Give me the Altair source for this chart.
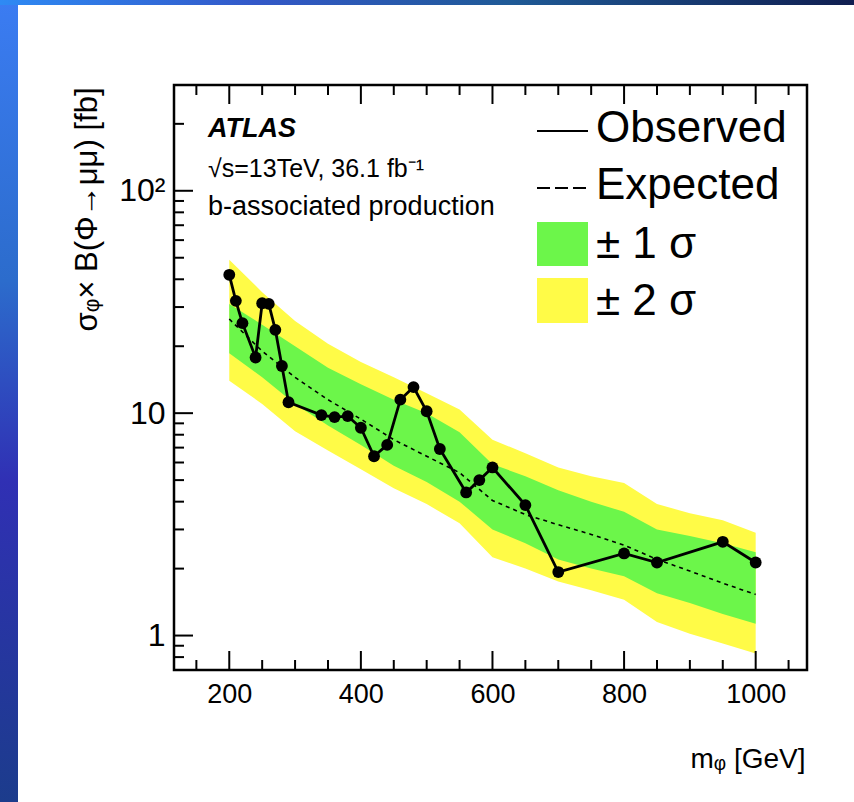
import altair as alt
import pandas as pd

# ---------------- data ----------------
mass_obs = [200, 210, 220, 240, 250, 260, 270, 280, 290, 340, 360, 380, 400, 420,
            440, 460, 480, 500, 520, 560, 580, 600, 650, 700, 800, 850, 950, 1000]
observed = [41.9, 32.0, 25.4, 17.8, 31.2, 31.0, 23.7, 16.3, 11.2, 9.8, 9.6, 9.7, 8.6, 6.4,
            7.2, 11.5, 13.1, 10.2, 6.9, 4.4, 5.0, 5.7, 3.86, 1.93, 2.34, 2.13, 2.64, 2.13]

mass_exp = [200, 250, 300, 350, 400, 450, 500, 550, 600, 650, 700, 750, 800, 850, 900, 950, 1000]
expected = [26.5, 19.0, 14.5, 11.5, 9.4, 7.6, 6.4, 5.4, 4.05, 3.5, 3.15, 2.85, 2.55, 2.2, 1.95, 1.72, 1.53]
plus1 =    [31.0, 25.0, 20.0, 16.0, 13.5, 11.5, 10.0, 8.2, 5.9, 5.2, 4.5, 4.0, 3.6, 3.0, 2.8, 2.6, 2.37]
minus1 =   [18.6, 14.5, 11.0, 8.8, 7.2, 5.8, 4.9, 4.0, 3.0, 2.6, 2.2, 2.0, 1.85, 1.55, 1.4, 1.25, 1.13]
plus2 =    [49.0, 35.0, 26.0, 20.5, 17.0, 14.5, 12.3, 10.4, 7.6, 6.6, 5.7, 5.2, 4.85, 3.9, 3.55, 3.3, 2.9]
minus2 =   [14.0, 11.0, 8.3, 6.8, 5.6, 4.6, 3.9, 3.2, 2.25, 2.0, 1.75, 1.6, 1.45, 1.15, 1.02, 0.92, 0.83]

x_major = [200, 400, 600, 800, 1000]
x_minor = [150, 250, 300, 350, 450, 500, 550, 650, 700, 750, 850, 900, 950, 1050]
y_major = [1, 10, 100]
y_minor = [0.8, 0.9, 2, 3, 4, 5, 6, 7, 8, 9, 20, 30, 40, 50, 60, 70, 80, 90, 200]

legend_labels = ["Observed", "Expected", "\u00b1 1 \u03c3", "\u00b1 2 \u03c3"]

# ---------------- layout ----------------
W, H = 633, 585
XDOM = [116, 1078]
YDOM = [0.7, 299]
FONT = "Liberation Sans"
MAJ, MIN = 19, 10

df_obs = pd.DataFrame({"m": mass_obs, "v": observed})
df_exp = pd.DataFrame({"m": mass_exp, "exp": expected, "p1": plus1, "m1": minus1,
                       "p2": plus2, "m2": minus2})

xs = alt.Scale(domain=XDOM, nice=False, zero=False)
ys = alt.Scale(type="log", domain=YDOM, nice=False)

x_axis = alt.Axis(values=x_major, format="d", title="m\u1d69 [GeV]", grid=False, domain=False,
                  ticks=False, tickSize=0, labelPadding=11, labelFontSize=27,
                  labelFont=FONT, labelColor="black", titleFont=FONT, titleFontSize=28,
                  titleFontWeight="normal", titleColor="black", titleAnchor="end",
                  titleAlign="right", titleX=W - 2, titleY=97, titleBaseline="alphabetic")
y_axis = alt.Axis(values=y_major, grid=False, domain=False, ticks=False, tickSize=0,
                  labelPadding=9, labelFontSize=32, labelFont=FONT, labelColor="black",
                  labelExpr="datum.value == 100 ? '10\u00b2' : datum.value == 10 ? '10' : '1'",
                  title="\u03c3\u1d69\u00d7 B(\u03a6\u2192\u03bc\u03bc) [fb]", titleFont=FONT,
                  titleFontSize=31, titleFontWeight="normal", titleColor="black",
                  titleAngle=-90, titleAlign="right", titleBaseline="middle",
                  titleX=-87, titleY=2)

base = alt.Chart(df_exp)
band2 = base.mark_area(color="#fffb47", opacity=1).encode(
    x=alt.X("m:Q", scale=xs, axis=x_axis), y=alt.Y("m2:Q", scale=ys, axis=y_axis),
    y2="p2:Q")
band1 = base.mark_area(color="#6cf64a", opacity=1).encode(
    x=alt.X("m:Q", scale=xs), y=alt.Y("m1:Q", scale=ys), y2="p1:Q")
exp_line = base.mark_line(color="black", strokeWidth=1.6, strokeDash=[4, 4]).encode(
    x=alt.X("m:Q", scale=xs), y=alt.Y("exp:Q", scale=ys))

obs_base = alt.Chart(df_obs)
obs_line = obs_base.mark_line(color="black", strokeWidth=2.8).encode(
    x=alt.X("m:Q", scale=xs), y=alt.Y("v:Q", scale=ys))
obs_pts = obs_base.mark_circle(color="black", size=140, opacity=1).encode(
    x=alt.X("m:Q", scale=xs), y=alt.Y("v:Q", scale=ys))

# inward ticks: bottom, top and left
tick_style = dict(color="black", strokeWidth=2)


def xticks(vals, length):
    d = alt.Chart(pd.DataFrame({"t": vals}))
    bot = d.mark_rule(**tick_style).encode(
        x=alt.X("t:Q", scale=xs), y=alt.value(H), y2=alt.value(H - length))
    top = d.mark_rule(**tick_style).encode(
        x=alt.X("t:Q", scale=xs), y=alt.value(0), y2=alt.value(length))
    return [bot, top]


def yticks(vals, length):
    d = alt.Chart(pd.DataFrame({"t": vals}))
    left = d.mark_rule(**tick_style).encode(
        y=alt.Y("t:Q", scale=ys), x=alt.value(0), x2=alt.value(length))
    return [left]


tick_layers = xticks(x_major, MAJ) + xticks(x_minor, MIN) + yticks(y_major, MAJ) + yticks(y_minor, MIN)


# annotation text
def txt(s, x, y, size, baseline="alphabetic", **kw):
    return alt.Chart(pd.DataFrame({"s": [s]})).mark_text(
        font=FONT, fontSize=size, align="left", baseline=baseline, color="black", **kw
    ).encode(x=alt.value(x), y=alt.value(y), text="s:N")


atlas = txt("ATLAS", 34, 52, 27, fontWeight="bold", fontStyle="italic")
energy = txt("\u221as=13TeV, 36.1 fb\u207b\u00b9", 34, 92, 25)
prod = txt("b-associated production", 34, 130, 27)

# legend
one = pd.DataFrame({"a": [0]})
leg_obs = alt.Chart(one).mark_rule(color="black", strokeWidth=2.2).encode(
    x=alt.value(363), x2=alt.value(414), y=alt.value(46))
leg_exp = alt.Chart(one).mark_rule(color="black", strokeWidth=2.2,
                                   strokeDash=[13, 5]).encode(
    x=alt.value(363), x2=alt.value(414), y=alt.value(103))
leg_g = alt.Chart(one).mark_rect(color="#6cf64a").encode(
    x=alt.value(363), x2=alt.value(414), y=alt.value(137), y2=alt.value(181))
leg_y = alt.Chart(one).mark_rect(color="#fffb47").encode(
    x=alt.value(363), x2=alt.value(414), y=alt.value(193), y2=alt.value(238))
leg_txt = [txt(legend_labels[i], 422, yy, 44, baseline="middle")
           for i, yy in enumerate([44, 101, 160, 217])]

# slide decoration (blue gradient strips)
left_strip = alt.Chart(one).mark_rect(
    clip=False,
    color=alt.LinearGradient(gradient="linear", x1=0, y1=0, x2=0, y2=1,
                             stops=[alt.GradientStop(offset=0, color="#3b7cf2"),
                                    alt.GradientStop(offset=0.35, color="#2c6ccc"),
                                    alt.GradientStop(offset=0.6, color="#3030b4"),
                                    alt.GradientStop(offset=1, color="#1c3c8c")])
).encode(x=alt.value(-174), x2=alt.value(-156), y=alt.value(-85), y2=alt.value(717))
top_strip = alt.Chart(one).mark_rect(
    clip=False,
    color=alt.LinearGradient(gradient="linear", x1=0, y1=0, x2=1, y2=0,
                             stops=[alt.GradientStop(offset=0, color="#2e8af4"),
                                    alt.GradientStop(offset=0.3, color="#3358c8"),
                                    alt.GradientStop(offset=0.6, color="#1f5a96"),
                                    alt.GradientStop(offset=1, color="#101e50")])
).encode(x=alt.value(-174), x2=alt.value(680), y=alt.value(-85), y2=alt.value(-80))

chart = alt.layer(
    band2, band1, exp_line, obs_line, obs_pts,
    *tick_layers,
    atlas, energy, prod,
    leg_obs, leg_exp, leg_g, leg_y, *leg_txt,
    left_strip, top_strip,
).properties(
    width=W, height=H,
    autosize=alt.AutoSizeParams(type="none"),
    padding={"left": 174, "top": 85, "right": 47, "bottom": 132},
    background="white",
).configure_view(stroke="black", strokeWidth=2.5)

chart.save("out.html", embed_options={"renderer": "svg", "actions": False})
